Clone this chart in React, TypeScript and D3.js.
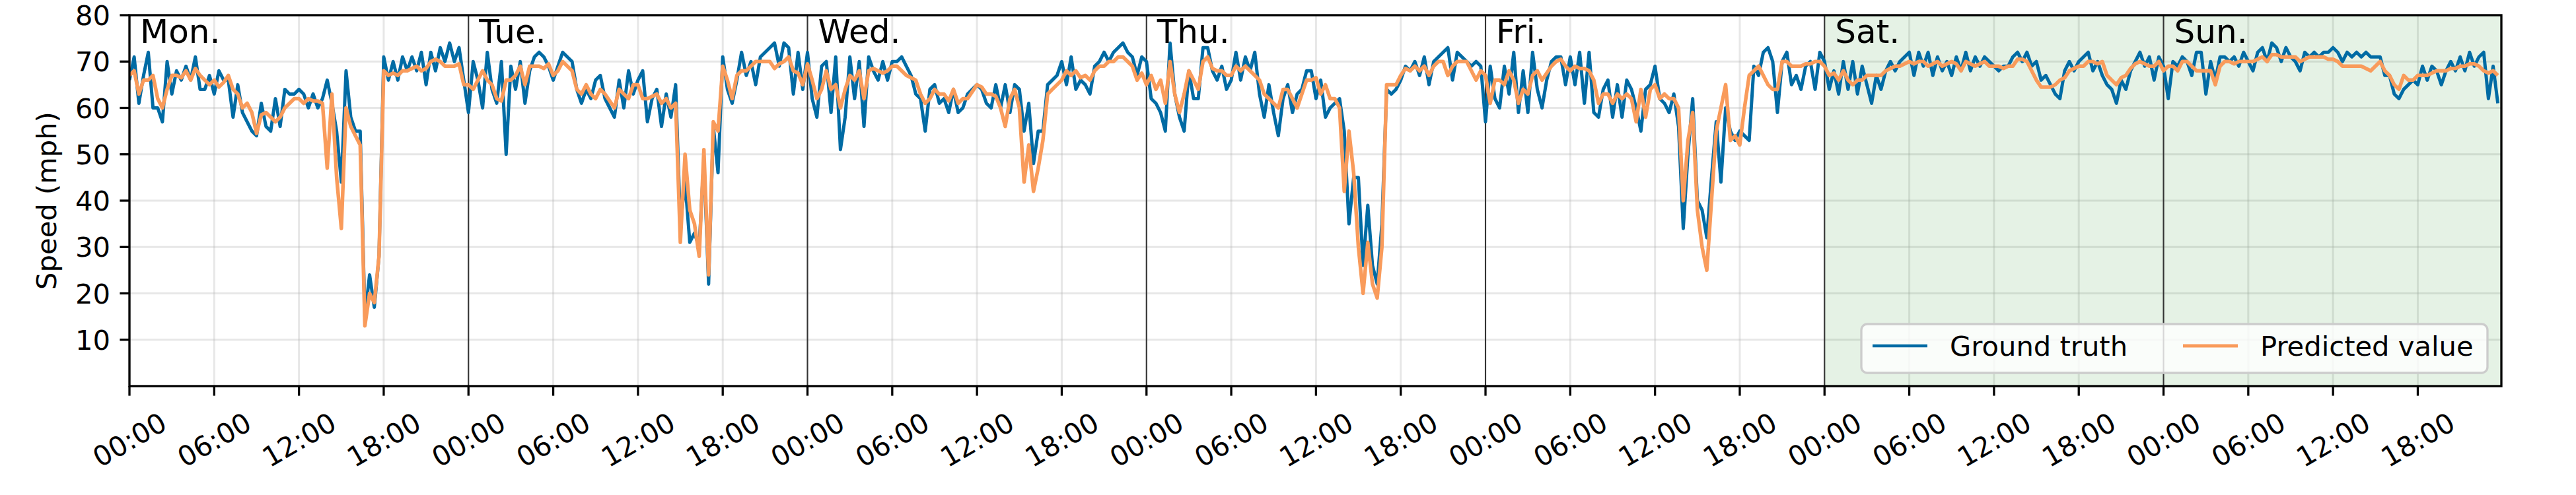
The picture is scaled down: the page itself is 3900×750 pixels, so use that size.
import React from 'react';
import * as d3 from 'd3';

// one value every 20 minutes, 72 per day
const stepMinutes = 20;
const dayNames = ['Mon.', 'Tue.', 'Wed.', 'Thu.', 'Fri.', 'Sat.', 'Sun.'];
const hourLabels = ['00:00', '06:00', '12:00', '18:00'];
const yTicks = [10, 20, 30, 40, 50, 60, 70, 80];

const truthMon = [66, 71, 61, 67, 72, 60, 60, 57, 70, 63, 68, 66, 69, 66, 71, 64, 64, 67, 63, 68, 66, 66, 58, 65, 59, 57, 55, 54, 61, 56, 55, 62, 56, 64, 63, 63, 64, 63, 60, 63, 60, 62, 66, 61, 55, 44, 68, 58, 55, 55, 15, 24, 17, 28, 71, 66, 70, 66, 71, 68, 71, 68, 72, 65, 72, 68, 73, 70, 74, 70, 73, 66];
const truthTue = [59, 70, 66, 60, 72, 64, 61, 70, 50, 69, 64, 70, 61, 68, 71, 72, 71, 69, 66, 69, 72, 71, 70, 64, 61, 64, 62, 66, 67, 62, 60, 58, 66, 60, 68, 63, 66, 68, 57, 62, 64, 56, 63, 58, 65, 35, 44, 31, 33, 30, 49, 22, 56, 46, 71, 64, 61, 66, 72, 67, 70, 65, 71, 72, 73, 74, 69, 74, 73, 63, 72, 64];
const truthWed = [72, 62, 58, 69, 70, 59, 71, 51, 58, 71, 62, 70, 56, 71, 68, 66, 70, 66, 70, 70, 71, 69, 67, 63, 62, 55, 64, 65, 61, 62, 59, 64, 59, 60, 63, 64, 65, 64, 61, 60, 65, 60, 65, 59, 65, 64, 55, 61, 48, 55, 55, 65, 66, 67, 70, 65, 71, 64, 66, 65, 63, 69, 70, 72, 70, 72, 73, 74, 72, 71, 67, 71];
const truthThu = [70, 62, 61, 59, 55, 74, 63, 58, 55, 68, 62, 62, 73, 73, 68, 66, 69, 64, 66, 72, 66, 71, 68, 72, 63, 58, 65, 59, 54, 62, 65, 59, 63, 64, 68, 68, 62, 66, 58, 60, 61, 62, 55, 35, 45, 45, 26, 39, 26, 22, 35, 64, 63, 64, 66, 69, 68, 70, 67, 71, 65, 70, 71, 72, 73, 66, 72, 71, 70, 69, 70, 69];
const truthFri = [57, 69, 62, 60, 69, 63, 72, 59, 68, 59, 72, 64, 60, 66, 70, 71, 71, 65, 71, 65, 72, 61, 72, 59, 58, 64, 66, 58, 65, 58, 66, 64, 60, 55, 64, 65, 69, 62, 61, 59, 63, 56, 34, 50, 62, 40, 38, 32, 45, 57, 44, 60, 55, 53, 55, 54, 53, 69, 67, 72, 73, 70, 59, 70, 72, 65, 67, 64, 69, 70, 64, 72];
const truthSat = [70, 64, 68, 63, 70, 64, 70, 63, 69, 65, 61, 67, 64, 68, 70, 68, 70, 71, 72, 67, 72, 69, 72, 67, 71, 68, 70, 67, 71, 68, 72, 68, 71, 69, 71, 70, 69, 68, 69, 69, 71, 72, 70, 72, 69, 70, 66, 67, 65, 63, 62, 68, 70, 68, 70, 71, 72, 68, 70, 67, 65, 64, 61, 66, 64, 68, 70, 72, 69, 71, 66, 71];
const truthSun = [69, 62, 70, 69, 71, 70, 67, 72, 72, 63, 70, 66, 71, 71, 70, 71, 69, 72, 70, 68, 72, 73, 70, 74, 73, 70, 73, 71, 70, 68, 72, 71, 72, 71, 72, 72, 73, 72, 70, 72, 71, 72, 71, 72, 71, 71, 71, 67, 67, 63, 62, 64, 65, 66, 65, 69, 66, 69, 68, 65, 68, 70, 68, 71, 68, 72, 69, 71, 72, 62, 69, 61];

const predMon = [67, 68, 63, 66, 66, 67, 62, 60, 64, 67, 67, 66.5, 68, 66, 68.5, 67, 66, 65, 66, 64.5, 65.5, 67, 64, 63, 60, 61, 59, 54.5, 58.5, 59, 58, 57, 58, 60, 61, 62, 62, 61, 62, 61.5, 61.5, 61, 47, 63, 45, 34, 60, 56, 54, 52, 13, 20, 18, 28, 68, 67, 67.5, 67, 68, 68, 68.5, 69, 68, 68.5, 70, 70.5, 70, 69, 69, 69, 69.5, 65];
const predTue = [65, 64, 66, 68, 66, 65, 62, 61.5, 66, 66, 67, 69, 65, 69, 69, 69, 68.5, 69.5, 67, 68, 70, 69, 68, 64, 63, 65, 63, 62, 64, 63, 61.5, 60, 64, 63, 62, 65, 65, 62, 62, 62.5, 63, 61, 62, 60, 61, 31, 50, 38, 35, 28, 51, 24, 57, 55, 69, 66, 62, 67, 68, 68, 69, 70, 70, 70, 70, 68.5, 69.5, 70, 71, 68, 67.5, 65];
const predWed = [69.5, 66, 62, 64, 68, 64, 65, 60, 64, 67, 66, 68, 62, 68, 68.5, 68, 67.5, 68, 69, 69, 68, 67, 66.5, 66, 63, 61, 62, 64, 63, 63, 61.5, 64, 61, 62, 62, 63.5, 65, 64.5, 63, 63, 62.5, 60, 56, 62, 64, 60, 44, 52, 42, 47, 53, 63, 64, 65, 66, 68, 67, 68, 66.5, 67, 66, 68, 69, 69, 70, 70, 71, 71, 70, 69, 66, 67.5];
const predThu = [65, 67, 64, 66, 61, 70, 63, 59, 63, 68, 66, 64, 70, 71, 68.5, 68, 68, 67, 67, 69, 68, 69, 68, 67, 66, 63, 62, 61, 60, 64, 64, 62, 60, 63, 66, 66, 66.5, 63, 65, 62, 62, 60, 42, 55, 46, 30, 20, 31, 22, 19, 30, 65, 65, 65, 67, 68.5, 68, 69, 68, 69, 67, 69, 70, 70, 67, 69, 70, 70, 70, 68, 66, 68];
const predFri = [67, 61, 66, 66, 65, 68, 66, 61, 64, 63, 67, 68, 66, 67.5, 69, 70, 70.5, 69, 68, 69, 68.5, 68.5, 68, 66, 61, 63, 63, 61, 63, 62, 63, 62, 57, 64, 58, 64, 65, 62, 63, 62, 62, 60, 40, 53, 59, 38, 30, 25, 40, 55, 60, 65, 53, 54, 52, 60, 67, 68, 69, 67, 65, 64, 64, 70, 70, 69, 69, 69, 69.5, 69.5, 70, 70];
const predSat = [69, 67, 67.5, 66, 68, 66, 65, 66, 66, 67, 67, 67, 67, 68, 68.5, 69, 69, 69.5, 70, 69.5, 70, 70, 69, 69.5, 70, 69, 69.5, 70, 69.5, 68, 70, 69.5, 69, 69.5, 70, 69, 69, 69, 68.5, 69, 69, 70.5, 70.5, 70, 68, 66, 64.5, 64.5, 64.5, 65, 66, 66.5, 68, 68.5, 69, 69, 70, 70, 69.5, 70, 67, 66, 65, 66.5, 67, 68.5, 69.5, 70, 69.5, 69, 69, 70];
const predSun = [68, 69, 69, 68, 70, 70, 69, 68, 68, 68, 68, 65, 69, 70, 70, 69.5, 70, 70, 70, 70, 70.5, 71, 70, 71.5, 71.5, 71, 71, 71, 71, 70, 70.5, 71, 71, 71, 71, 70.5, 70.5, 70, 69, 69, 69, 69, 69, 68.5, 68, 69, 70, 68, 67, 65, 64, 67, 66, 66, 67, 67, 67, 67.5, 68, 68, 68, 68.5, 68.5, 69, 69, 69.5, 69.5, 69, 68, 67.5, 68, 67];

const groundTruth = [truthMon, truthTue, truthWed, truthThu, truthFri, truthSat, truthSun];
const predicted = [predMon, predTue, predWed, predThu, predFri, predSat, predSun];

const W = 3900;
const H = 750;
const margin = {left: 196, right: 3787, top: 23, bottom: 585};
const font = "'DejaVu Sans', sans-serif";
const tickSize = 41.67;
const blue = '#006BA4';
const orange = '#F99B5B';

// days -> [minute, value] pairs
const toPoints = (days: number[][]): [number, number][] =>
  days.flatMap((vals, d) => vals.map((v, k) => [d * 1440 + k * stepMinutes, v] as [number, number]));

export default function App() {
  const x = d3.scaleLinear().domain([0, 7 * 1440 - 5]).range([margin.left, margin.right]);
  const y = d3.scaleLinear().domain([0, 80]).range([margin.bottom, margin.top]);
  const line = d3
    .line<[number, number]>()
    .x(d => x(d[0]))
    .y(d => y(d[1]));

  const xTicks = d3.range(0, 7 * 1440, 360);
  const plotW = margin.right - margin.left;
  const plotH = margin.bottom - margin.top;

  return (
    <svg
      width={W}
      height={H}
      style={{position: 'absolute', left: 0, top: 0, background: 'white'}}
      fontFamily={font}>
      <defs>
        <clipPath id="plot">
          <rect x={margin.left} y={margin.top} width={plotW} height={plotH} />
        </clipPath>
      </defs>
      <rect x={0} y={0} width={W} height={H} fill="white" />

      {/* grid */}
      {yTicks.map(t => (
        <line key={'gy' + t} x1={margin.left} x2={margin.right} y1={y(t)} y2={y(t)} stroke="#b0b0b0" strokeOpacity={0.3} strokeWidth={3} />
      ))}
      {xTicks.map(t => (
        <line key={'gx' + t} x1={x(t)} x2={x(t)} y1={margin.top} y2={margin.bottom} stroke="#b0b0b0" strokeOpacity={0.3} strokeWidth={3} />
      ))}

      {/* weekend */}
      <rect x={x(5 * 1440)} y={margin.top} width={margin.right - x(5 * 1440)} height={plotH} fill="green" fillOpacity={0.1} />

      {/* day separators */}
      {d3.range(1, 7).map(d => (
        <line key={'sep' + d} x1={x(d * 1440)} x2={x(d * 1440)} y1={margin.top} y2={margin.bottom} stroke="#333" strokeWidth={2} />
      ))}

      <g clipPath="url(#plot)" fill="none" strokeLinejoin="round">
        <path d={line(toPoints(groundTruth)) || ''} stroke={blue} strokeWidth={5} />
        <path d={line(toPoints(predicted)) || ''} stroke={orange} strokeWidth={5.5} />
      </g>

      {/* day names */}
      {dayNames.map((name, d) => (
        <text key={name} x={x(d * 1440) + 16} y={65} fontSize={50}>
          {name}
        </text>
      ))}

      {/* legend */}
      <g>
        <rect x={2818} y={491} width={948} height={74} rx={9} fill="white" fillOpacity={0.8} stroke="#cccccc" strokeWidth={3.3} />
        <line x1={2835} x2={2918} y1={524} y2={524} stroke={blue} strokeWidth={4.5} />
        <text x={2952} y={524} dy="0.36em" fontSize={tickSize}>Ground truth</text>
        <line x1={3305} x2={3388} y1={524} y2={524} stroke={orange} strokeWidth={5} />
        <text x={3422} y={524} dy="0.36em" fontSize={tickSize}>Predicted value</text>
      </g>

      {/* frame */}
      <rect x={margin.left} y={margin.top} width={plotW} height={plotH} fill="none" stroke="black" strokeWidth={3.3} />

      {/* y axis */}
      {yTicks.map(t => (
        <g key={'yt' + t}>
          <line x1={margin.left - 14.6} x2={margin.left} y1={y(t)} y2={y(t)} stroke="black" strokeWidth={3.3} />
          <text x={margin.left - 29} y={y(t)} dy="0.36em" textAnchor="end" fontSize={tickSize}>
            {t}
          </text>
        </g>
      ))}
      <text transform={`translate(85, ${(margin.top + margin.bottom) / 2}) rotate(-90)`} textAnchor="middle" fontSize={tickSize}>
        Speed (mph)
      </text>

      {/* x axis */}
      {xTicks.map((t, i) => (
        <g key={'xt' + t}>
          <line x1={x(t)} x2={x(t)} y1={margin.bottom} y2={margin.bottom + 14.6} stroke="black" strokeWidth={3.3} />
          <text transform={`translate(${x(t)}, 666) rotate(-30)`} dy="0.36em" textAnchor="middle" fontSize={tickSize}>
            {hourLabels[i % 4]}
          </text>
        </g>
      ))}
    </svg>
  );
}
